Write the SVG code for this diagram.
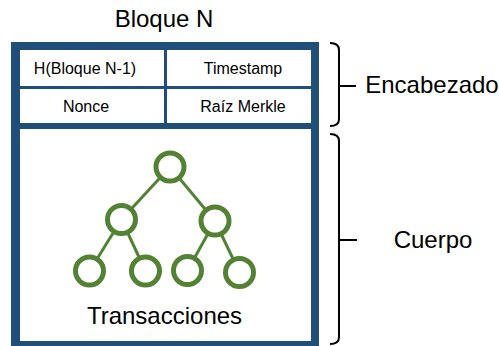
<svg xmlns="http://www.w3.org/2000/svg" width="499" height="346" viewBox="0 0 499 346">
<style>
text{font-family:"Liberation Sans",Arial,sans-serif;fill:#000;text-anchor:middle}
.big{font-size:24px}
.small{font-size:16px}
.cell{fill:#fff}
.ring{fill:#fff;stroke:#548235;stroke-width:5}
.edge{stroke:#548235;stroke-width:3}
.brace{fill:none;stroke:#000;stroke-width:2}
</style>
<rect width="499" height="346" fill="#fff"/>
<text class="big" x="164" y="27">Bloque N</text>
<g id="block">
<rect x="11" y="42" width="308" height="304" fill="#1F4E79"/>
</g>
<g id="hash">
<rect class="cell" x="20" y="50" width="144" height="36"/>
<text class="small" x="85" y="74">H(Bloque N-1)</text>
</g>
<g id="timestamp">
<rect class="cell" x="167" y="50" width="144" height="36"/>
<text class="small" x="243" y="74">Timestamp</text>
</g>
<g id="nonce">
<rect class="cell" x="20" y="89" width="144" height="34"/>
<text class="small" x="86" y="112">Nonce</text>
</g>
<g id="merkle">
<rect class="cell" x="167" y="89" width="144" height="34"/>
<text class="small" x="243" y="112">Raíz Merkle</text>
</g>
<g id="body">
<rect class="cell" x="20" y="129" width="291" height="212"/>
<text class="big" x="164.5" y="324">Transacciones</text>
</g>
<g id="tree-edges">
<line class="edge" x1="170" y1="167" x2="121.5" y2="219.5"/>
<line class="edge" x1="170" y1="167" x2="215" y2="221"/>
<line class="edge" x1="121.5" y1="219.5" x2="89.5" y2="271"/>
<line class="edge" x1="121.5" y1="219.5" x2="145.5" y2="271"/>
<line class="edge" x1="215" y1="221" x2="187.5" y2="270.5"/>
<line class="edge" x1="215" y1="221" x2="239.5" y2="272.5"/>
</g>
<g id="tree-root"><circle class="ring" cx="170" cy="167" r="14"/></g>
<g id="tree-mid-left"><circle class="ring" cx="121.5" cy="219.5" r="14"/></g>
<g id="tree-mid-right"><circle class="ring" cx="215" cy="221" r="14"/></g>
<g id="tree-leaf1"><circle class="ring" cx="89.5" cy="271" r="14"/></g>
<g id="tree-leaf2"><circle class="ring" cx="145.5" cy="271" r="14"/></g>
<g id="tree-leaf3"><circle class="ring" cx="187.5" cy="270.5" r="14"/></g>
<g id="tree-leaf4"><circle class="ring" cx="239.5" cy="272.5" r="14"/></g>
<g id="encabezado">
<path class="brace" d="M330,43 Q339,43 339,50 V119 Q339,126 330,126 M339,86 H356"/>
<text class="big" x="432" y="93">Encabezado</text>
</g>
<g id="cuerpo">
<path class="brace" d="M330,134 Q339,134 339,141 V337 Q339,344 330,344 M339,240 H357"/>
<text class="big" x="433" y="248">Cuerpo</text>
</g>
</svg>
